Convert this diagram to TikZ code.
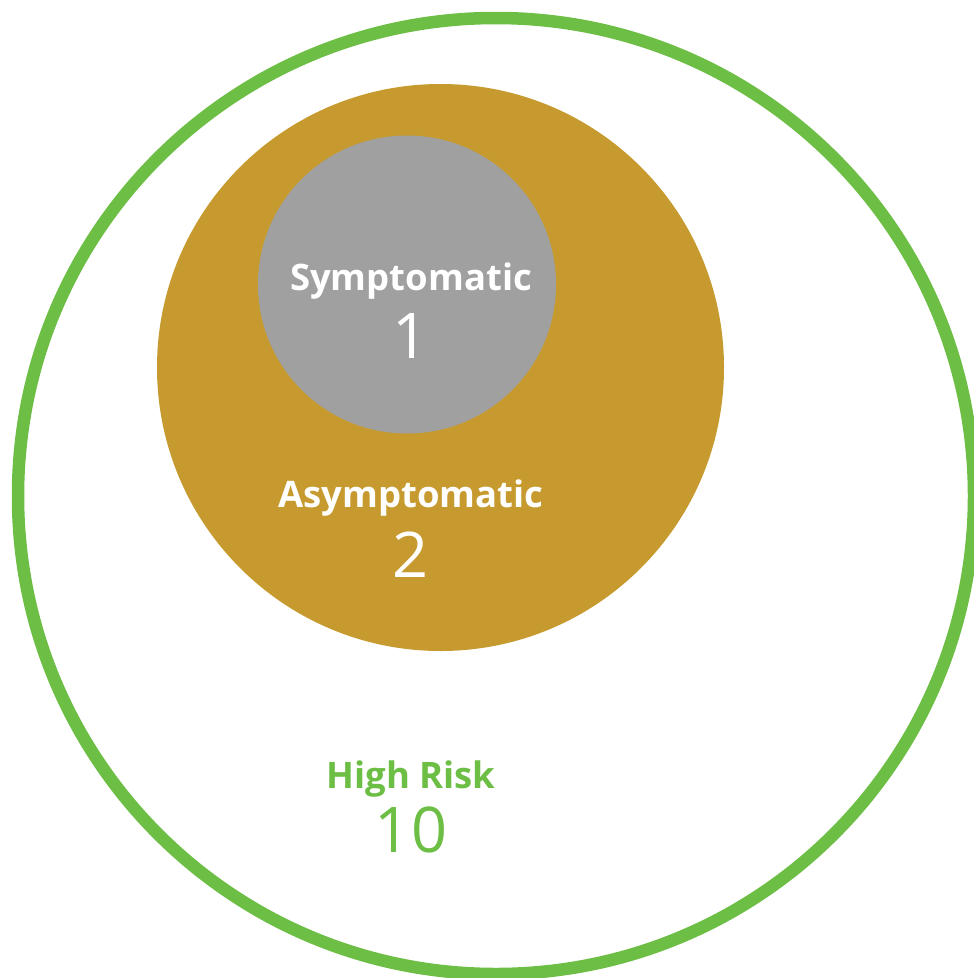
\documentclass[tikz,border=0pt]{standalone}
\usepackage{fontspec}
\setmainfont{Open Sans}
\usepackage{xcolor}
\definecolor{riskgreen}{HTML}{6DBE45}
\definecolor{asymgold}{HTML}{C69A2E}
\definecolor{symgray}{HTML}{A0A0A0}
\newcommand{\grouplabel}{\fontsize{36.5}{40}\selectfont\bfseries}
\newcommand{\groupcount}{\fontsize{63}{70}\selectfont}
\begin{document}
\begin{tikzpicture}[x=1pt,y=-1pt]
	\tikzstyle{every node}+=[inner sep=0pt]
	\tikzstyle{label text}=[anchor=base,font=\grouplabel]
	\tikzstyle{count text}=[anchor=base,font=\groupcount]
	\useasboundingbox (0,0) rectangle (974,978);
	\node [circle,draw=riskgreen,line width=12.5pt,minimum size=956pt] (risk) at (496,496) {};
	\node [circle,fill=asymgold,minimum size=567pt] (asym) at (440.5,367.5) {};
	\node [circle,fill=symgray,minimum size=298pt] (sym) at (407,284.5) {};
	\node [label text,text=white] (symlabel) at (411,290) {Symptomatic};
	\node [count text,text=white] (symcount) at (411,358) {1};
	\node [label text,text=white] (asymlabel) at (411,507) {Asymptomatic};
	\node [count text,text=white] (asymcount) at (411,577) {2};
	\node [label text,text=riskgreen] (risklabel) at (411,788) {High Risk};
	\node [count text,text=riskgreen] (riskcount) at (411,852) {10};
\end{tikzpicture}
\end{document}
